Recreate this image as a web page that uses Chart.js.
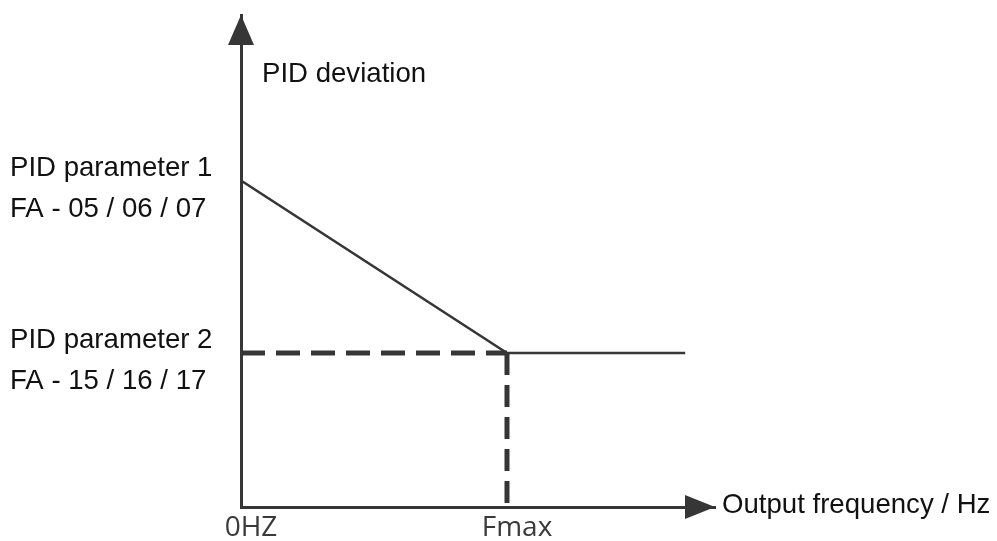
<!DOCTYPE html>
<html>
<head>
<meta charset="utf-8">
<script src="https://cdn.jsdelivr.net/npm/chart.js@4.4.1/dist/chart.umd.min.js"></script>
<style>
  html, body { margin: 0; padding: 0; background: #fff; }
  #wrap { width: 997px; height: 541px; }
</style>
</head>
<body>
<div id="wrap"><canvas id="pidChart" width="997" height="541"></canvas></div>
<script>
// output frequency in % of Fmax
const freqTicks = [0, 100];
const freqTickLabels = ['0HZ', 'Fmax'];
const freqEnd = 167;

// PID deviation levels (parameter set 1, parameter set 2)
const levels = [2.12, 1];
const levelLabels = [
  ['PID parameter 1', 'FA - 05 / 06 / 07'],
  ['PID parameter 2', 'FA - 15 / 16 / 17']
];

// switching curve
const curveX = [0, freqTicks[1], freqEnd];
const curveY = [levels[0], levels[1], levels[1]];

// dashed guides to Fmax
const guideHX = [0, freqTicks[1]];
const guideHY = [levels[1], levels[1]];
const guideVX = [freqTicks[1], freqTicks[1]];
const guideVY = [levels[1], 0];

const ink = '#363636';
const toPoints = (xs, ys) => xs.map((x, i) => ({ x: x, y: ys[i] }));

const axisDecor = {
  id: 'axisDecor',
  afterDraw(chart) {
    const { ctx, chartArea: a, scales } = chart;
    ctx.save();
    ctx.fillStyle = ink;

    // arrow heads
    ctx.beginPath();
    ctx.moveTo(a.left, a.top);
    ctx.lineTo(a.left - 13, a.top + 30);
    ctx.lineTo(a.left + 13, a.top + 30);
    ctx.closePath();
    ctx.fill();

    ctx.beginPath();
    ctx.moveTo(a.right, a.bottom);
    ctx.lineTo(a.right - 30, a.bottom - 12);
    ctx.lineTo(a.right - 30, a.bottom + 12);
    ctx.closePath();
    ctx.fill();

    // axis titles
    ctx.fillStyle = '#111';
    ctx.font = '27.6px "Liberation Sans", Arial, sans-serif';
    ctx.textAlign = 'left';
    ctx.textBaseline = 'alphabetic';
    ctx.fillText('PID deviation', a.left + 21, a.top + 67);
    ctx.fillText('Output frequency / Hz', a.right + 7, a.bottom + 6);

    // parameter labels beside each level
    levels.forEach((v, i) => {
      const py = scales.y.getPixelForValue(v);
      ctx.fillText(levelLabels[i][0], 10, py - 5);
      ctx.fillText(levelLabels[i][1], 10, py + 36);
    });
    ctx.restore();
  }
};

new Chart(document.getElementById('pidChart'), {
  type: 'scatter',
  data: {
    datasets: [
      {
        data: toPoints(curveX, curveY),
        showLine: true,
        borderColor: ink,
        borderWidth: 2.5,
        pointRadius: 0
      },
      {
        data: toPoints(guideHX, guideHY),
        showLine: true,
        borderColor: ink,
        borderWidth: 5,
        borderDash: [24, 11],
        pointRadius: 0
      },
      {
        data: toPoints(guideVX, guideVY),
        showLine: true,
        borderColor: ink,
        borderWidth: 5,
        borderDash: [22, 10],
        pointRadius: 0
      }
    ]
  },
  options: {
    responsive: false,
    animation: false,
    layout: { padding: { left: 0, top: 15, right: 282, bottom: 0 } },
    plugins: { legend: { display: false }, tooltip: { enabled: false } },
    scales: {
      x: {
        type: 'linear',
        min: 0,
        max: 178.2,
        afterFit: (axis) => { axis.height = 34; },
        afterBuildTicks: (axis) => { axis.ticks = freqTicks.map(v => ({ value: v })); },
        grid: { display: false, drawTicks: false, tickLength: 0 },
        border: { display: true, color: ink, width: 3 },
        ticks: {
          padding: 4,
          labelOffset: 10,
          color: '#3a3a3a',
          font: { family: '"Open Sans", sans-serif', size: 28 },
          callback: (v) => freqTickLabels[freqTicks.indexOf(v)]
        }
      },
      y: {
        type: 'linear',
        min: 0,
        max: 3.195,
        afterFit: (axis) => { axis.width = 241; },
        grid: { display: false, drawTicks: false, tickLength: 0 },
        border: { display: true, color: ink, width: 3 },
        ticks: { display: false }
      }
    }
  },
  plugins: [axisDecor]
});
</script>
</body>
</html>
